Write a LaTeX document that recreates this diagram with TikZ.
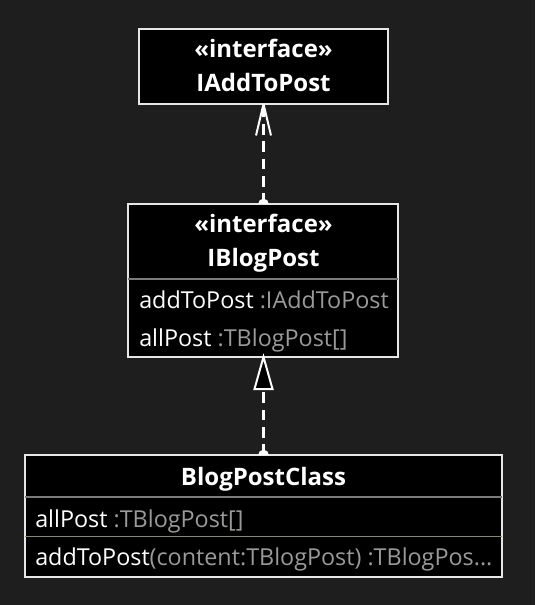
\documentclass[tikz,border=0pt]{standalone}
\usepackage{fontspec}
\setmainfont{Open Sans}
\usetikzlibrary{arrows.meta}
\definecolor{bg}{HTML}{1E1E1E}
\definecolor{typegray}{HTML}{9A9A9A}
\definecolor{sepgray}{HTML}{7A7A7A}
\definecolor{sepolive}{HTML}{8A8A60}
\definecolor{boxline}{HTML}{E6E6E6}
\tikzset{
  x=0.75pt, y=-0.75pt,
  umlbox/.style={draw=boxline, line width=1.1pt, fill=black},
  title/.style={text=white, font=\fontsize{18}{21}\selectfont\bfseries, anchor=base, inner sep=0pt},
  member/.style={text=white, font=\fontsize{17.5}{21}\selectfont, anchor=base west, inner sep=0pt},
  sepline/.style={draw=sepgray, line width=1pt},
  rel/.style={draw=white, line width=1.6pt, dash pattern=on 8pt off 5pt},
  headline/.style={white, line width=1.5pt},
}
\newcommand{\ty}[1]{\textcolor{typegray}{#1}}
\begin{document}
\begin{tikzpicture}
\fill[bg] (0,0) rectangle (535,605);
\useasboundingbox (0,0) rectangle (535,605);

% IAddToPost
\path[umlbox] (139,29) rectangle (388,104);
\coordinate (aBot) at (263.5,104);
\node[title] (a1) at (263.5,58) {«interface»};
\node[title] (a2) at (263.5,92) {IAddToPost};

% IBlogPost
\path[umlbox] (128,204) rectangle (398,357);
\coordinate (bTop) at (263.5,204);
\coordinate (bBot) at (263.5,357);
\node[title] (b1) at (263.5,233) {«interface»};
\node[title] (b2) at (263.5,267) {IBlogPost};
\coordinate (bs1) at (128,279);
\coordinate (bs2) at (398,279);
\draw[sepline] (bs1) -- (bs2);
\node[member] (b3) at (139,308) {addToPost \ty{:IAddToPost}};
\node[member] (b4) at (139,346) {allPost \ty{:TBlogPost[]}};

% BlogPostClass
\path[umlbox] (25,455) rectangle (502,577);
\coordinate (cTop) at (263.5,455);
\node[title] (c1) at (263.5,485) {BlogPostClass};
\coordinate (cs1) at (25,497);
\coordinate (cs2) at (502,497);
\draw[sepline] (cs1) -- (cs2);
\node[member] (c2) at (35,527) {allPost \ty{:TBlogPost[]}};
\coordinate (cs3) at (25,536.5);
\coordinate (cs4) at (502,536.5);
\draw[draw=sepolive, line width=1pt] (cs3) -- (cs4);
\node[member] (c3) at (35,565) {addToPost\ty{(content:TBlogPost) :TBlogPos...}};

% dependency IBlogPost -> IAddToPost
\draw[rel] (bTop) -- ([yshift=-2pt]aBot);
\draw[headline] (aBot) -- ++(-7.5,31.5);
\draw[headline] (aBot) -- ++(7.5,31.5);
\draw[headline] (aBot) -- ++(0,12);
\fill[white] ([xshift=-4pt]bTop) arc[start angle=180, end angle=0, radius=4pt] -- cycle;

% realization BlogPostClass -> IBlogPost
\draw[rel] (cTop) -- ([yshift=-20pt]bBot);
\draw[headline, fill=black] (bBot) -- ++(-9,32) -- ++(18,0) -- cycle;
\fill[white] ([xshift=-4pt]cTop) arc[start angle=180, end angle=0, radius=4pt] -- cycle;
\end{tikzpicture}
\end{document}
